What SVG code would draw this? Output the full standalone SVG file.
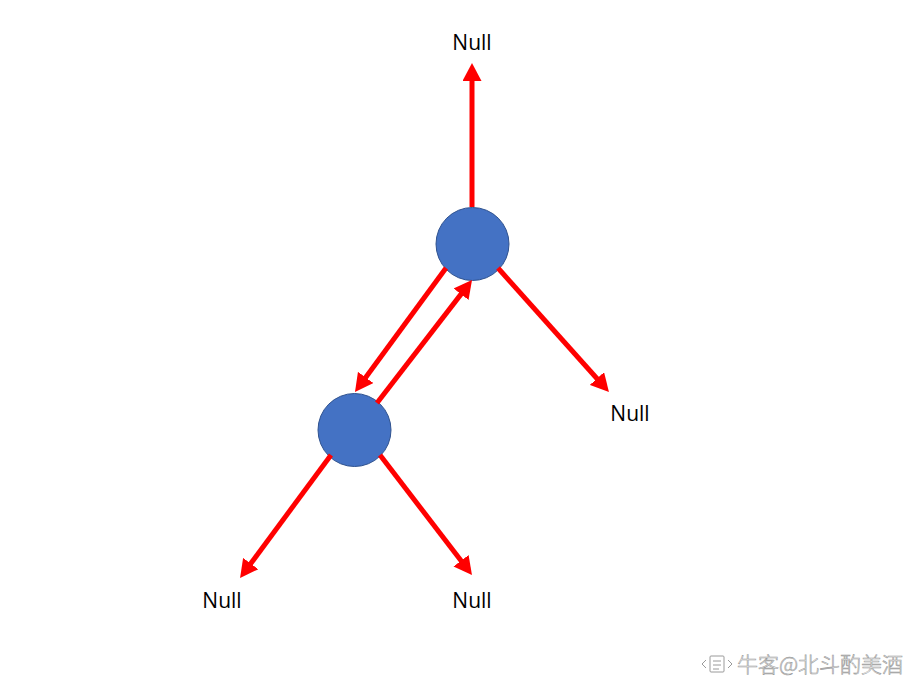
<svg xmlns="http://www.w3.org/2000/svg" width="918" height="684" viewBox="0 0 918 684">
<style>
.node{fill:#4472C4;stroke:#2F528F;stroke-width:1}
.edge{stroke:#FF0000;stroke-width:5;fill:none;marker-end:url(#ah)}
.lbl{font-family:"Open Sans","Liberation Sans",Arial,sans-serif;font-size:21px;fill:#000;text-anchor:middle}
.wm{font-family:"Noto Sans CJK SC",sans-serif;font-size:21px;font-weight:300;fill:#ffffff;stroke:#9a9a9a;stroke-width:0.6}
</style>
<defs>
<marker id="ah" markerUnits="userSpaceOnUse" markerWidth="18" markerHeight="19" refX="8" refY="9.5" orient="auto" viewBox="0 0 18 19">
<path d="M0,0 L18,9.5 L0,19 Z" fill="#FF0000"/>
</marker>
</defs>
<rect width="918" height="684" fill="#fff"/>
<g id="node-top"><circle class="node" cx="472.5" cy="244" r="36.5"/></g>
<g id="node-bottom"><circle class="node" cx="354.5" cy="430" r="36.5"/></g>
<g id="null-top"><text class="lbl" x="472" y="50">Null</text></g>
<g id="null-right"><text class="lbl" x="630" y="421">Null</text></g>
<g id="null-bl"><text class="lbl" x="222" y="608">Null</text></g>
<g id="null-br"><text class="lbl" x="472" y="608">Null</text></g>
<g id="connectors">
<line class="edge" x1="472" y1="207" x2="472" y2="73"/>
<line class="edge" x1="498" y1="268" x2="602.3" y2="384.5"/>
<line class="edge" x1="446" y1="268" x2="360.9" y2="383.9"/>
<line class="edge" x1="377" y1="403" x2="465.9" y2="287.9"/>
<line class="edge" x1="331" y1="455" x2="246" y2="570"/>
<line class="edge" x1="380" y1="455" x2="465.9" y2="567.1"/>
</g>
<g id="watermark">
<g fill="none" stroke="#9a9a9a" stroke-width="1">
<rect x="710" y="656" width="14" height="16" rx="1"/>
<path d="M706,660 L702,664 L706,668 M728,660 L732,664 L728,668 M713,661 L721,661 M713,665 L721,665 M713,669 L719,669"/>
</g>
<text class="wm" x="737" y="672">牛客@北斗酌美酒</text>
</g>
</svg>
